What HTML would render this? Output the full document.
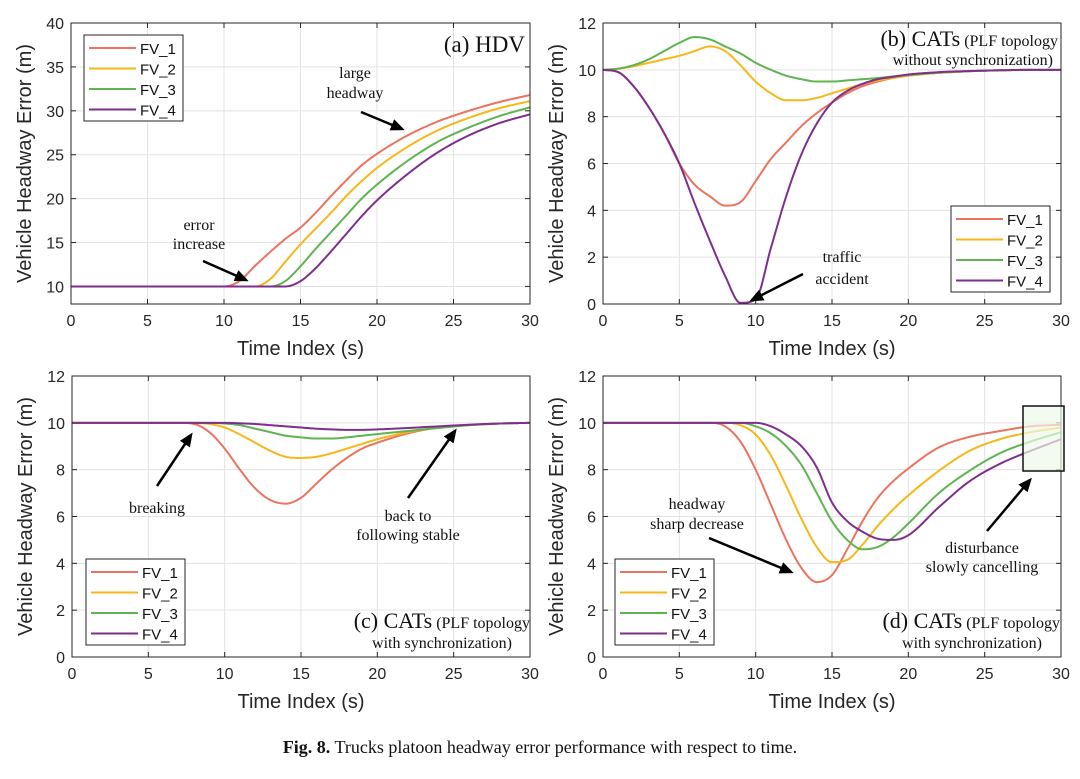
<!DOCTYPE html>
<html><head><meta charset="utf-8">
<style>
html,body{margin:0;padding:0;background:#fff;}
svg{display:block;}
.tk{font-family:"Liberation Sans",sans-serif;font-size:16px;fill:#262626;}
.ttl{font-family:"Liberation Sans",sans-serif;font-size:20px;fill:#262626;}
.ann{font-family:"Liberation Serif",serif;font-size:16px;fill:#111;}
.lg{font-family:"Liberation Sans",sans-serif;font-size:15px;fill:#111;}
</style></head>
<body>
<svg id="fig" width="1080" height="779" viewBox="0 0 1080 779" xmlns="http://www.w3.org/2000/svg">
<defs><marker id="ah" markerWidth="14" markerHeight="12" refX="11" refY="6" orient="auto" markerUnits="userSpaceOnUse" viewBox="0 0 14 12"><path d="M0,0 L14,6 L0,12 z" fill="#000"/></marker></defs>
<g id="layer"></g>
<text x="540" y="753" text-anchor="middle" style="font-family:'Liberation Serif',serif;font-size:18px;fill:#111"><tspan font-weight="bold">Fig. 8.</tspan>  Trucks platoon headway error performance with respect to time.</text>
</svg>
<script>
const T = [0,1,2,3,4,5,6,7,8,9,10,11,12,13,14,15,16,17,18,19,20,22,24,26,28,30];
const seriesNames = ["FV_1","FV_2","FV_3","FV_4"];
const xTicks = [0,5,10,15,20,25,30];
const yTicksA = [10,15,20,25,30,35,40];
const yTicksB = [0,2,4,6,8,10,12];
const a1 = [10,10,10,10,10,10,10,10,10,10,10,10.6,12.3,13.9,15.4,16.7,18.4,20.3,22.1,23.8,25.1,27.2,28.8,30.0,31.0,31.8];
const a2 = [10,10,10,10,10,10,10,10,10,10,10,10,10,10.8,12.8,14.8,16.6,18.4,20.3,22.0,23.5,25.9,27.8,29.2,30.3,31.1];
const a3 = [10,10,10,10,10,10,10,10,10,10,10,10,10,10,10.6,12.3,14.3,16.2,18.1,20.0,21.6,24.3,26.5,28.1,29.4,30.4];
const a4 = [10,10,10,10,10,10,10,10,10,10,10,10,10,10,10,10.6,12.1,14.0,16.0,18.0,19.8,22.8,25.3,27.2,28.6,29.6];
const b1 = [10,9.9,9.3,8.4,7.3,6.0,5.1,4.6,4.2,4.35,5.25,6.2,6.9,7.6,8.15,8.6,9.0,9.3,9.5,9.65,9.75,9.87,9.94,9.98,10,10];
const b2 = [10,10.05,10.15,10.3,10.45,10.6,10.8,11.0,10.8,10.2,9.5,9.0,8.7,8.7,8.8,9.0,9.2,9.4,9.55,9.65,9.75,9.87,9.94,9.98,10,10];
const b3 = [10,10.05,10.2,10.45,10.8,11.15,11.4,11.3,11.0,10.7,10.3,10.0,9.75,9.6,9.5,9.5,9.55,9.6,9.65,9.72,9.78,9.88,9.94,9.98,10,10];
const b4 = [10,9.9,9.3,8.4,7.3,6.0,4.3,2.7,1.2,0.05,0.2,2.4,4.6,6.4,7.7,8.6,9.1,9.4,9.6,9.7,9.8,9.9,9.95,9.98,10,10];
const c1 = [10,10,10,10,10,10,10,10,9.95,9.6,8.9,8.0,7.2,6.7,6.55,6.8,7.4,8.0,8.5,8.9,9.15,9.55,9.8,9.9,9.97,10];
const c2 = [10,10,10,10,10,10,10,10,10,9.95,9.8,9.5,9.15,8.8,8.55,8.5,8.55,8.7,8.9,9.1,9.3,9.6,9.8,9.9,9.97,10];
const c3 = [10,10,10,10,10,10,10,10,10,10,9.97,9.9,9.75,9.6,9.45,9.38,9.33,9.33,9.38,9.45,9.52,9.65,9.78,9.9,9.97,10];
const c4 = [10,10,10,10,10,10,10,10,10,10,10,9.98,9.95,9.9,9.85,9.8,9.75,9.72,9.7,9.7,9.72,9.78,9.85,9.92,9.97,10];
const d1 = [10,10,10,10,10,10,10,10,9.85,9.2,8.0,6.5,5.0,3.8,3.2,3.5,4.6,5.8,6.8,7.5,8.05,8.95,9.4,9.65,9.85,9.92];
const d2 = [10,10,10,10,10,10,10,10,10,9.9,9.5,8.6,7.3,5.9,4.7,4.05,4.15,4.8,5.6,6.3,6.9,7.95,8.8,9.3,9.6,9.8];
const d3 = [10,10,10,10,10,10,10,10,10,10,9.85,9.55,9.0,8.2,7.0,5.8,5.0,4.6,4.7,5.1,5.7,7.0,7.95,8.7,9.2,9.6];
const d4 = [10,10,10,10,10,10,10,10,10,10,10,9.85,9.5,9.0,8.1,6.6,5.8,5.35,5.05,5.0,5.2,6.4,7.5,8.25,8.8,9.3];

const COLORS = ["#ec735e","#f6b719","#5fb452","#7e2f8e"];
const NS = "http://www.w3.org/2000/svg";
const layer = document.getElementById('layer');
function mk(tag, attrs, parent){const e=document.createElementNS(NS,tag);for(const k in attrs)e.setAttribute(k,attrs[k]);(parent||layer).appendChild(e);return e;}

function monotone(xs, ys){
  const n=xs.length, d=[], m=new Array(n);
  for(let i=0;i<n-1;i++) d.push((ys[i+1]-ys[i])/(xs[i+1]-xs[i]));
  m[0]=d[0]; m[n-1]=d[n-2];
  for(let i=1;i<n-1;i++){ m[i]=(d[i-1]*d[i]<=0)?0:(d[i-1]+d[i])/2; }
  for(let i=0;i<n-1;i++){ if(d[i]===0){m[i]=0;m[i+1]=0;continue;} const a=m[i]/d[i], b=m[i+1]/d[i], s=a*a+b*b; if(s>9){const t=3/Math.sqrt(s); m[i]=t*a*d[i]; m[i+1]=t*b*d[i];} }
  const out=[];
  for(let i=0;i<n-1;i++){ const h=xs[i+1]-xs[i];
    for(let k=0;k<12;k++){ const t=k/12, t2=t*t, t3=t2*t;
      const y=(2*t3-3*t2+1)*ys[i]+(t3-2*t2+t)*h*m[i]+(-2*t3+3*t2)*ys[i+1]+(t3-t2)*h*m[i+1];
      out.push([xs[i]+t*h,y]); } }
  out.push([xs[n-1],ys[n-1]]);
  return out;
}

function panel(id, box, ymin, ymax, yTicks, series, legend){
  const [x0,y0,x1,y1]=box;
  const g=mk('g',{});
  
  
  const sx=v=>x0+(v-0)/(30-0)*(x1-x0);
  const sy=v=>y1-(v-ymin)/(ymax-ymin)*(y1-y0);
  mk('rect',{x:x0,y:y0,width:x1-x0,height:y1-y0,fill:'#fff'},g);
  xTicks.forEach(v=>{ const X=sx(v);
    const l=mk('line',{x1:X,x2:X,y1:y0,y2:y1,stroke:'#e3e3e3','stroke-width':1},g);
     
    mk('line',{x1:X,x2:X,y1:y1,y2:y1-5,stroke:'#262626'},g);
    mk('line',{x1:X,x2:X,y1:y0,y2:y0+5,stroke:'#262626'},g);
    const t=mk('text',{x:X,y:y1+22,'text-anchor':'middle',class:'tk'},g); t.textContent=v;
     
  });
  yTicks.forEach(v=>{ const Y=sy(v);
    const l=mk('line',{x1:x0,x2:x1,y1:Y,y2:Y,stroke:'#e3e3e3','stroke-width':1},g);
     
    mk('line',{x1:x0,x2:x0+5,y1:Y,y2:Y,stroke:'#262626'},g);
    mk('line',{x1:x1,x2:x1-5,y1:Y,y2:Y,stroke:'#262626'},g);
    const t=mk('text',{x:x0-7,y:Y+6,'text-anchor':'end',class:'tk'},g); t.textContent=v;
     
  });
  const cp=mk('clipPath',{id:'cp-'+id},g); mk('rect',{x:x0,y:y0-2,width:x1-x0,height:y1-y0+2},cp);
  series.forEach((ys,i)=>{
    const pts=monotone(T,ys).map(p=>[sx(p[0]),sy(Math.max(ymin,p[1]))]);
    const p=mk('path',{d:'M'+pts.map(q=>q[0].toFixed(2)+','+q[1].toFixed(2)).join('L'),fill:'none',stroke:COLORS[i],'stroke-width':2,'stroke-linejoin':'round','clip-path':'url(#cp-'+id+')'},g);
    
    
  });
  mk('rect',{x:x0,y:y0,width:x1-x0,height:y1-y0,fill:'none',stroke:'#262626','stroke-width':1},g);
  const xt=mk('text',{x:(x0+x1)/2,y:y1+51,'text-anchor':'middle',class:'ttl'},g); xt.textContent='Time Index (s)';
   
  const yt=mk('text',{x:0,y:0,'text-anchor':'middle',class:'ttl',transform:`translate(${x0-40},${(y0+y1)/2}) rotate(-90)`},g); yt.textContent='Vehicle Headway Error (m)';
   
  const [lx,ly]=legend;
  const lgG=mk('g',{},g);
   
  mk('rect',{x:lx,y:ly,width:99,height:86,fill:'#fff',stroke:'#262626','stroke-width':1},lgG);
  seriesNames.forEach((n,i)=>{ const Y=ly+13+i*20.5;
    const e=mk('g',{},lgG);
     
    mk('line',{x1:lx+5,x2:lx+52,y1:Y,y2:Y,stroke:COLORS[i],'stroke-width':2},e);
    const t=mk('text',{x:lx+56,y:Y+6,class:'lg'},e); t.textContent=n;
  });
  return g;
}
function txt(name,x,y,s,anchor,size){const t=mk('text',{x:x,y:y,'text-anchor':anchor||'middle',class:'ann'});if(size)t.style.fontSize=size+'px';t.textContent=s;return t;}
function rich(name,x,y,big,small){const t=mk('text',{x:x,y:y,'text-anchor':'end',class:'ann'});t.innerHTML='<tspan font-size="22">'+big+'</tspan><tspan font-size="16"> '+small+'</tspan>';return t;}
function arrow(name,x1,y1,x2,y2){const l=mk('line',{x1:x1,y1:y1,x2:x2,y2:y2,stroke:'#000','stroke-width':2.5,'marker-end':'url(#ah)'});}

panel('panel-a-hdv',[71,23,530,304],8,40,yTicksA,[a1,a2,a3,a4],[84,35]);
panel('panel-b-cats-unsync',[603,23,1061,304],0,12,yTicksB,[b1,b2,b3,b4],[951,206]);
panel('panel-c-cats-sync',[72,376,530,657],0,12,yTicksB,[c1,c2,c3,c4],[86,559]);
panel('panel-d-cats-sync',[603,376,1061,657],0,12,yTicksB,[d1,d2,d3,d4],[615,559]);

txt('panel-a-title',525,52,'(a) HDV','end',23);
txt('annotation-large',355,78,'large'); txt('annotation-headway',355,98,'headway');
arrow('arrow-large-headway',361,112,402,129);
txt('annotation-error',199,230,'error'); txt('annotation-increase',199,249,'increase');
arrow('arrow-error-increase',203,261,246,280);
rich('panel-b-title',1058,46,'(b) CATs','(PLF topology');
txt('panel-b-subtitle',1053,65,'without synchronization)','end');
txt('annotation-traffic',842,262,'traffic'); txt('annotation-accident',842,284,'accident');
arrow('arrow-traffic-accident',803,274,752,300);
txt('annotation-breaking',157,513,'breaking');
arrow('arrow-breaking',157,486,191,435);
txt('annotation-back-to',408,521,'back to'); txt('annotation-following-stable',408,540,'following stable');
arrow('arrow-back-stable',408,498,455,431);
rich('panel-c-title',530,628,'(c) CATs','(PLF topology');
txt('panel-c-subtitle',512,648,'with synchronization)','end');
const hl=mk('rect',{x:1023,y:406,width:41,height:65,fill:'#eef8ea',stroke:'#111','stroke-width':1.5,'fill-opacity':0.7});
 
txt('annotation-headway-d',697,509,'headway'); txt('annotation-sharp-decrease',697,529,'sharp decrease');
arrow('arrow-sharp-decrease',709,538,791,572);
txt('annotation-disturbance',982,553,'disturbance'); txt('annotation-slowly-cancelling',982,572,'slowly cancelling');
arrow('arrow-disturbance',987,531,1030,480);
rich('panel-d-title',1060,628,'(d) CATs','(PLF topology');
txt('panel-d-subtitle',1042,648,'with synchronization)','end');
</script>
</body></html>
